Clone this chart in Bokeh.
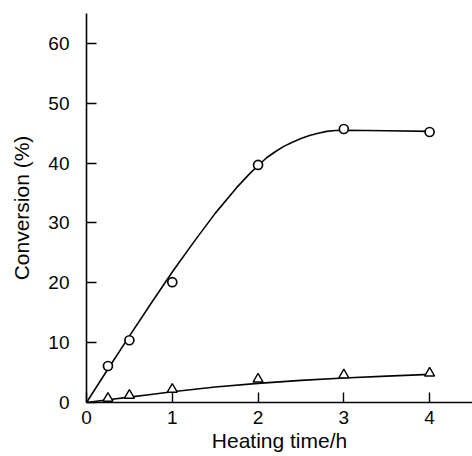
from bokeh.plotting import figure
from bokeh.models import Range1d, FixedTicker
from bokeh.embed import file_html
from bokeh.resources import INLINE

# Measured points
time_circle = [0.25, 0.5, 1, 2, 3, 4]
conv_circle = [6.1, 10.4, 20.1, 39.7, 45.7, 45.2]
time_triangle = [0.25, 0.5, 1, 2, 3, 4]
conv_triangle = [0.7, 1.2, 2.2, 3.9, 4.6, 4.9]

# Fitted curves
curve_time_circle = [0, 0.25, 0.5, 0.75, 1.0, 1.25, 1.5, 1.75, 1.9, 2.0, 2.1, 2.2, 2.3,
                     2.4, 2.5, 2.6, 2.7, 2.8, 2.9, 3.0, 3.5, 4.0]
curve_conv_circle = [0, 5.6, 11.1, 16.5, 21.8, 26.8, 31.6, 35.9, 38.2, 39.6, 40.9, 41.9, 42.8,
                     43.5, 44.1, 44.6, 45.0, 45.3, 45.45, 45.5, 45.4, 45.3]
curve_time_triangle = [0, 0.25, 0.5, 0.75, 1.0, 1.5, 2.0, 2.5, 3.0, 3.5, 4.0]
curve_conv_triangle = [0, 0.45, 0.9, 1.35, 1.8, 2.6, 3.2, 3.7, 4.1, 4.4, 4.7]

x_ticks = [0, 1, 2, 3, 4]
y_ticks = [0, 10, 20, 30, 40, 50, 60]
x_title = "Heating time/h"
y_title = "Conversion (%)"

FONT = "Liberation Sans"
INK = "#050505"

p = figure(width=472, height=456, output_backend="svg", toolbar_location=None,
           x_range=Range1d(0, 4.5), y_range=Range1d(0, 65),
           min_border_left=86, min_border_right=0, min_border_top=13, min_border_bottom=54)
p.outline_line_color = None
p.xgrid.grid_line_color = None
p.ygrid.grid_line_color = None
p.background_fill_color = "white"
p.border_fill_color = "white"

p.xaxis.ticker = FixedTicker(ticks=x_ticks)
p.yaxis.ticker = FixedTicker(ticks=y_ticks)
p.xaxis.axis_label = x_title
p.yaxis.axis_label = y_title

for ax in (p.xaxis, p.yaxis):
    ax.axis_line_color = INK
    ax.axis_line_width = 1.6
    ax.major_tick_line_color = INK
    ax.major_tick_line_width = 1.4
    ax.major_tick_in = 10
    ax.major_tick_out = 0
    ax.minor_tick_line_color = None
    ax.major_label_text_font = FONT
    ax.major_label_text_font_size = "19px"
    ax.major_label_text_color = INK
    ax.axis_label_text_font = FONT
    ax.axis_label_text_font_size = "21px"
    ax.axis_label_text_font_style = "normal"
    ax.axis_label_text_color = INK

p.yaxis.major_label_standoff = 17
p.yaxis.axis_label_standoff = 12
p.xaxis.major_label_standoff = 8
p.xaxis.axis_label_standoff = 2

p.line(curve_time_circle, curve_conv_circle, line_color=INK, line_width=1.6)
p.line(curve_time_triangle, curve_conv_triangle, line_color=INK, line_width=1.6)

p.scatter(time_circle, conv_circle, marker="circle", size=9, fill_color="white",
          line_color=INK, line_width=1.7)
p.scatter(time_triangle, conv_triangle, marker="triangle", size=10, fill_color="white",
          line_color=INK, line_width=1.4)

open("out.html", "w").write(file_html(p, INLINE))
